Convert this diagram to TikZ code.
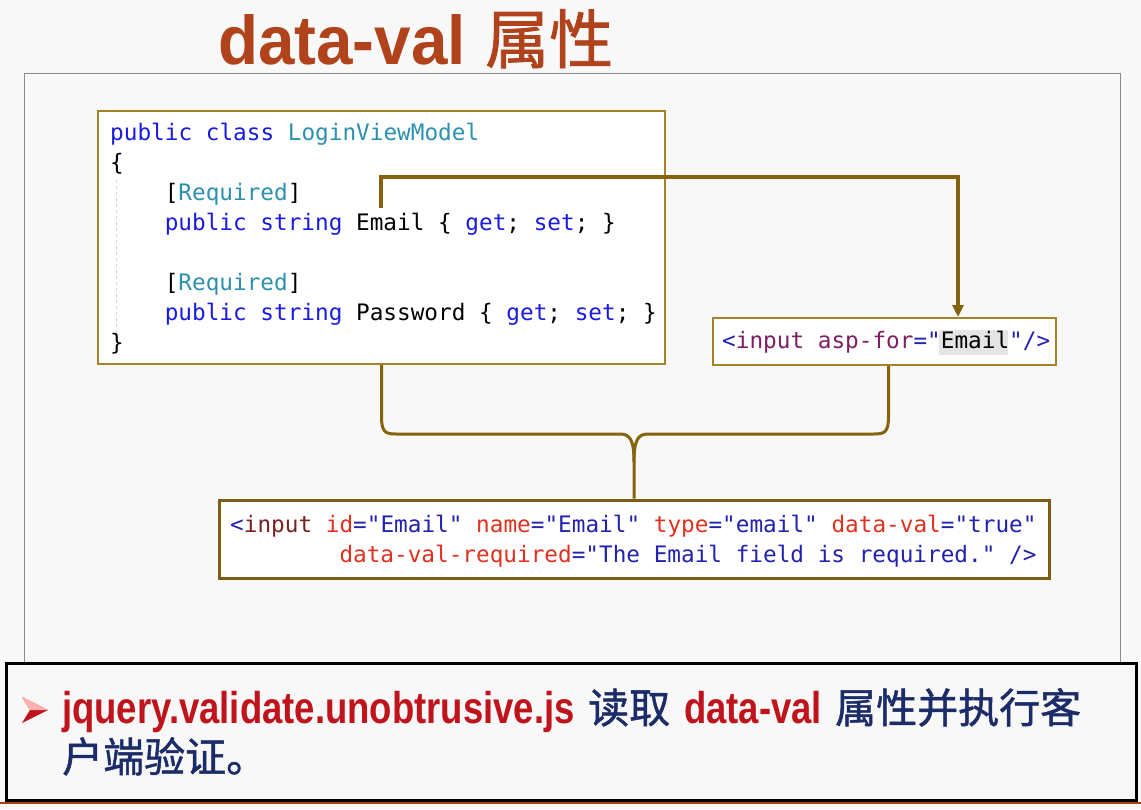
\documentclass[tikz,border=0pt]{standalone}
\usepackage{fontspec}
\usetikzlibrary{arrows.meta}
\setmainfont{Liberation Sans}
\newfontfamily\codefont{DejaVu Sans Mono}
\newfontfamily\cjk{Noto Sans CJK SC}
\newfontfamily\cjkmed[FakeBold=1.2]{Noto Sans CJK SC}
\newfontfamily\narrowsans[FakeStretch=0.82]{Liberation Sans}
\newfontfamily\titlesans[FakeStretch=0.95]{Liberation Sans}
\definecolor{bgc}{HTML}{F8F8F8}
\definecolor{panelc}{HTML}{8A8A8A}
\definecolor{boxc}{HTML}{A58226}
\definecolor{boxd}{HTML}{7E5C12}
\definecolor{connc}{HTML}{85620C}
\definecolor{titlec}{HTML}{B0431C}
\definecolor{kw}{HTML}{1A1AE0}
\definecolor{ty}{HTML}{2B91AF}
\definecolor{tagp}{HTML}{7E1E62}
\definecolor{tagm}{HTML}{7A2020}
\definecolor{attr}{HTML}{E3301E}
\definecolor{val}{HTML}{2222B0}
\definecolor{redt}{HTML}{C0141C}
\definecolor{navy}{HTML}{1C2C68}
\newcommand{\kw}[1]{\textcolor{kw}{#1}}
\newcommand{\ty}[1]{\textcolor{ty}{#1}}
\newcommand{\vl}[1]{\textcolor{val}{#1}}
\newcommand{\at}[1]{\textcolor{attr}{#1}}
\begin{document}
\begin{tikzpicture}[x=1pt,y=-1pt,
  box/.style={draw=boxc, line width=2pt, fill=white, inner sep=0pt},
  code/.style={anchor=base west, inner sep=0pt, font=\codefont\fontsize{22.7}{30}\selectfont},
  conn/.style={draw=connc, line width=3.2pt},
  title/.style={anchor=base west, inner sep=0pt, text=titlec},
  bottomtxt/.style={anchor=base west, inner sep=0pt},
 ]
\fill[bgc] (0,0) rectangle (1141,809);
\useasboundingbox (0,0) rectangle (1141,809);
% title
\node[title, font=\titlesans\fontsize{69}{69}\selectfont\bfseries] (t1) at (218,64) {data-val};
\node[title, font=\cjkmed\fontsize{64}{64}\selectfont] (t2) at (485,63) {属性};
% panel
\draw[panelc, line width=1pt] (24,73) rectangle (1120,662);
% boxes
\node[box, minimum width=567pt, minimum height=253pt] (b1) at (381.5,237.5) {};
\node[box, minimum width=343pt, minimum height=47pt] (b2) at (884.5,341.5) {};
\node[box, draw=boxd, line width=3pt, minimum width=830pt, minimum height=78pt] (b3) at (634,539) {};
% guide line
\draw[gray!35, dashed, line width=0.8pt] (116,180) -- (116,342);
% code in box 1
\node[code] (c1) at (110,140) {\kw{public} \kw{class} \ty{LoginViewModel}};
\node[code] (c2) at (110,170) {\{};
\node[code] (c3) at (164.6,200) {[\ty{Required}]};
\node[code] (c4) at (164.6,230) {\kw{public} \kw{string} Email \{ \kw{get}; \kw{set}; \}};
\node[code] (c6) at (164.6,290) {[\ty{Required}]};
\node[code] (c7) at (164.6,320) {\kw{public} \kw{string} Password \{ \kw{get}; \kw{set}; \}};
\node[code] (c8) at (110,350) {\}};
% box 2
\fill[gray!20] (939,330) rectangle (1008,355);
\node[code] (d1) at (722,348) {\vl{<}\textcolor{tagp}{input} \textcolor{tagp}{asp-for}\vl{="}Email\vl{"/>}};
% box 3
\node[code] (e1) at (230,532) {\vl{<}\textcolor{tagm}{input} \at{id}\vl{="Email"} \at{name}\vl{="Email"} \at{type}\vl{="email"} \at{data-val}\vl{="true"}};
\node[code] (e2) at (339.3,562) {\at{data-val-required}\vl{="The Email field is required." />}};
% connector arrow
\coordinate (emailtop) at (381,208);
\coordinate (turn) at (958,177);
\draw[conn, -{Triangle[length=12pt,width=11pt]}] (emailtop) |- (turn) -- (turn |- b2.north);
% brace
\draw[conn, line width=3pt] (b1.south) -- (381.5,416) .. controls (381.5,432) and (385,434) .. (396,434) -- (620,434) .. controls (630,434) and (634,440) .. (634,462) -- (b3.north);
\draw[conn, line width=3pt] ([xshift=4pt]b2.south) -- (888.5,416) .. controls (888.5,432) and (885,434) .. (874,434) -- (648,434) .. controls (638,434) and (634,440) .. (634,462);
% bottom box
\draw[black, line width=3pt] (6,663) rectangle (1136,800);
\draw[boxd!70!red, line width=1.2pt] (0,803) -- (1141,803);
\fill[redt] (22,697) -- (48,710) -- (22,723) -- (30,710) -- cycle;
\fill[red!30!white] (22,697) -- (48,710) -- (30,710) -- cycle;
\node[bottomtxt, text=redt, font=\narrowsans\fontsize{44.5}{44.5}\selectfont\bfseries] (f1) at (62,723) {jquery.validate.unobtrusive.js};
\node[bottomtxt, text=navy, font=\cjkmed\fontsize{41}{41}\selectfont] (f2) at (588,723) {读取};
\node[bottomtxt, text=redt, font=\narrowsans\fontsize{44.5}{44.5}\selectfont\bfseries] (f3) at (684,723) {data-val};
\node[bottomtxt, text=navy, font=\cjkmed\fontsize{41}{41}\selectfont] (f4) at (835,723) {属性并执行客};
\node[bottomtxt, text=navy, font=\cjkmed\fontsize{41}{41}\selectfont] (f5) at (62,772) {户端验证。};
\end{tikzpicture}
\end{document}
